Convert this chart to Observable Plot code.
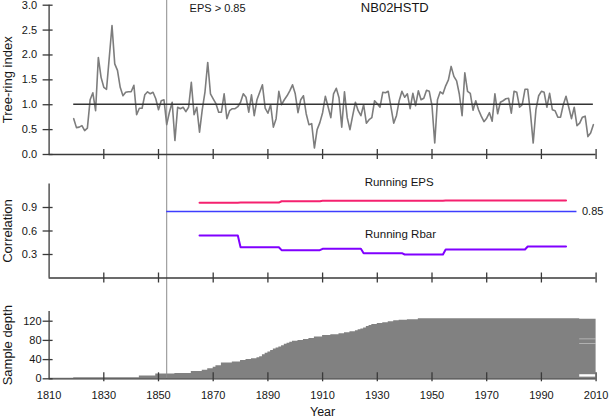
<!DOCTYPE html>
<html>
<head>
<meta charset="utf-8">
<script src="https://cdn.jsdelivr.net/npm/d3@7"></script>
<script src="https://cdn.jsdelivr.net/npm/@observablehq/plot@0.6"></script>
<style>
  html, body { margin: 0; padding: 0; background: #fff; }
  #chart { width: 609px; height: 419px; overflow: hidden; }
  #chart svg { display: block; }
</style>
</head>
<body>
<div id="chart"></div>
<script>
// ---------------- data ----------------
const chronologyName = "NB02HSTD";
const epsLabel = "EPS > 0.85";
const treeRingStart = 1819;
const treeRingIndex = [
  0.72, 0.54, 0.55, 0.58, 0.48, 0.53, 1.10, 1.24, 0.88, 1.95,
  1.55, 1.35, 1.31, 1.95, 2.59, 1.82, 1.69, 1.35, 1.18, 1.25,
  1.26, 1.26, 1.39, 0.80, 0.93, 0.93, 1.20, 1.26, 1.22, 1.25,
  1.12, 0.90, 1.08, 1.10, 0.60, 0.85, 1.05, 0.28, 0.95, 0.92,
  0.95, 0.86, 0.95, 1.45, 0.80, 0.95, 0.45, 0.90, 1.26, 1.85,
  1.22, 1.12, 1.02, 0.85, 0.85, 1.22, 0.72, 0.88, 0.92, 0.92,
  0.96, 1.05, 1.22, 1.15, 0.85, 1.20, 0.78, 1.10, 1.25, 1.40,
  0.93, 0.83, 1.00, 0.55, 0.72, 1.27, 1.00, 1.10, 1.18, 1.28,
  1.40, 1.22, 0.84, 1.10, 1.18, 0.82, 0.60, 0.62, 0.13, 0.50,
  0.64, 0.84, 1.17, 0.96, 0.74, 1.22, 1.33, 1.14, 0.55, 1.26,
  0.74, 0.50, 0.78, 1.05, 0.88, 0.78, 1.00, 0.63, 0.70, 0.74,
  1.08, 1.02, 0.95, 1.25, 1.24, 1.27, 0.95, 0.63, 0.78, 1.08,
  1.27, 1.15, 1.22, 0.92, 1.23, 0.98, 1.28, 1.10, 1.13, 1.29,
  1.27, 0.98, 0.23, 1.10, 1.26, 1.22, 1.38, 1.50, 1.77, 1.57,
  1.48, 1.21, 0.78, 1.64, 1.27, 1.23, 0.89, 1.08, 0.90, 0.77,
  0.66, 0.73, 0.84, 0.67, 1.22, 0.82, 1.05, 1.08, 1.12, 1.13,
  0.83, 1.27, 1.25, 0.95, 1.00, 1.31, 1.31, 0.83, 0.23, 0.90,
  1.18, 1.27, 1.25, 0.95, 1.23, 0.90, 0.88, 0.75, 0.75, 1.00,
  1.17, 0.95, 0.72, 0.95, 0.58, 0.63, 0.75, 0.77, 0.36, 0.43,
  0.60
];
const meanIndex = 1.01;

const epsCutYear = 1853;
const epsThreshold = 0.85;
const epsThresholdEnd = 2003;

const epsYears  = [1865, 1879, 1880, 1894, 1895, 1909, 1910, 1954, 1955, 1999];
const epsValues = [0.960, 0.960, 0.963, 0.963, 0.980, 0.980, 0.985, 0.985, 0.990, 0.990];

const rbarYears  = [1865, 1879, 1880, 1894, 1895, 1909, 1910, 1924, 1925, 1939, 1940, 1954, 1955, 1984, 1985, 1999];
const rbarValues = [0.543, 0.543, 0.393, 0.393, 0.355, 0.355, 0.373, 0.373, 0.317, 0.317, 0.300, 0.300, 0.364, 0.364, 0.402, 0.402];

const depthYears  = [1810, 1819, 1843, 1849, 1856, 1862, 1866, 1868, 1870, 1871, 1873, 1877, 1880, 1882, 1884, 1886, 1887, 1888, 1889, 1890,
                     1891, 1892, 1893, 1894, 1895, 1896, 1897, 1898, 1899, 1901, 1903, 1905, 1907, 1910, 1913, 1916, 1918, 1920, 1922, 1923,
                     1924, 1925, 1926, 1927, 1928, 1930, 1932, 1934, 1936, 1938, 1941, 1945, 2004];
const depthValues = [1, 2, 6, 10, 11, 15, 18, 21, 24, 27, 33, 35, 38, 40, 42, 44, 46, 50, 53, 56,
                     59, 62, 64, 66, 69, 72, 74, 76, 78, 80, 82, 84, 87, 90, 92, 94, 96, 98, 100, 102,
                     104, 106, 109, 111, 113, 115, 117, 119, 121, 122, 123, 125, 124];
const depthEndYear = 2010;

const gapStartYears = [2004, 2004, 2004];
const gapLow  = [3.5, 72.6, 81.6];
const gapHigh = [8.5, 73.4, 82.4];

const xTicks     = [1810, 1830, 1850, 1870, 1890, 1910, 1930, 1950, 1970, 1990, 2010];
const ringTicks  = [0, 0.5, 1.0, 1.5, 2.0, 2.5, 3.0];
const corrTicks  = [0.3, 0.6, 0.9];
const corrMax    = 1.2;
const depthTicks = [0, 40, 80, 120];
const depthMax   = 140;

const seriesLabels = ["Running EPS", "Running Rbar"];
const axisTitles = ["Tree-ring index", "Correlation", "Sample depth", "Year"];

// ---------------- tables built from the arrays ----------------
const treeRing = treeRingIndex.map((v, i) => ({year: treeRingStart + i, index: v}));
const lastYear = treeRingStart + treeRingIndex.length - 1;
const eps = epsYears.map((y, i) => ({year: y, value: epsValues[i]}));
const rbar = rbarYears.map((y, i) => ({year: y, value: rbarValues[i]}));
const depthSteps = depthYears.map((y, i) => ({year: y, depth: depthValues[i]}))
  .concat([{year: depthEndYear, depth: depthValues[depthValues.length - 1]}]);
const gaps = gapStartYears.map((y, i) => ({x1: y, x2: depthEndYear, y1: gapLow[i], y2: gapHigh[i]}));

// ---------------- shared styling ----------------
const xDomain = [xTicks[0], xTicks[xTicks.length - 1]];
const axisColor = "#3a3a3a";
const textColor = "#161616";
const axisW = 1.3;
const common = {
  width: 609,
  marginLeft: 48.6,
  marginRight: 13.4,
  style: {
    fontFamily: "'Liberation Sans', Arial, Helvetica, sans-serif",
    fontSize: "11px",
    color: textColor,
    background: "transparent",
    overflow: "visible"
  }
};

function frameMarks(yMax, yTicks, tickUp, tickDown) {
  return [
    Plot.ruleY([0], {x1: xDomain[0], x2: xDomain[1], stroke: axisColor, strokeWidth: axisW}),
    Plot.ruleX([xDomain[0]], {y1: 0, y2: yMax, stroke: axisColor, strokeWidth: axisW}),
    Plot.ruleX(xTicks.slice(1), {x: d => d, y1: 0, y2: 0, insetTop: -tickUp, insetBottom: -tickDown, stroke: axisColor, strokeWidth: axisW}),
    Plot.ruleY(yTicks, {y: d => d, x1: xDomain[0], x2: xDomain[0], insetLeft: -6, insetRight: -4, stroke: axisColor, strokeWidth: axisW})
  ];
}

function yTitle(label) {
  return Plot.text([label], {frameAnchor: "left", rotate: -90, dx: -46.3, lineAnchor: "top",
    textAnchor: "middle", text: d => d, fontSize: 13, fill: textColor});
}

// ---------------- top panel: chronology ----------------
const topM = {t: 4.7, b: 11};
const topPlot = Plot.plot({
  ...common,
  height: 165, marginTop: topM.t, marginBottom: topM.b,
  x: {domain: xDomain, axis: null},
  y: {domain: [0, ringTicks[ringTicks.length - 1]], ticks: ringTicks, tickSize: 0, tickPadding: 12, tickFormat: ".1f", label: null},
  marks: [
    Plot.ruleX([epsCutYear], {stroke: "#8c8c8c", strokeWidth: 1, insetTop: -topM.t, insetBottom: -topM.b}),
    ...frameMarks(ringTicks[ringTicks.length - 1], ringTicks, 5, 5),
    Plot.line(treeRing, {x: "year", y: "index", stroke: "#7d7d7d", strokeWidth: 1.6}),
    Plot.ruleY([meanIndex], {x1: treeRingStart, x2: lastYear, stroke: "#333", strokeWidth: 1.6}),
    Plot.text([chronologyName], {x: 1936.4, y: 2.94, text: d => d, fontSize: 13, lineAnchor: "middle", fill: textColor}),
    Plot.text([epsLabel], {x: 1871.6, y: 2.93, text: d => d, fontSize: 11, lineAnchor: "middle", fill: textColor}),
    yTitle(axisTitles[0])
  ]
});

// ---------------- middle panel: running statistics ----------------
const midM = {t: 18.5, b: 12.5};
const midPlot = Plot.plot({
  ...common,
  height: 125, marginTop: midM.t, marginBottom: midM.b,
  x: {domain: xDomain, axis: null},
  y: {domain: [0, corrMax], ticks: corrTicks, tickSize: 0, tickPadding: 12, tickFormat: ".1f", label: null},
  marks: [
    Plot.ruleX([epsCutYear], {stroke: "#8c8c8c", strokeWidth: 1, insetTop: -midM.t, insetBottom: -midM.b}),
    ...frameMarks(corrMax, corrTicks, 5, 5),
    Plot.ruleY([epsThreshold], {x1: epsCutYear, x2: epsThresholdEnd, stroke: "#3d3dff", strokeWidth: 1.5}),
    Plot.line(eps, {x: "year", y: "value", stroke: "#f5216f", strokeWidth: 2}),
    Plot.line(rbar, {x: "year", y: "value", stroke: "#8000ff", strokeWidth: 2}),
    Plot.text([epsThreshold], {x: epsThresholdEnd, y: d => d, text: d => String(d), dx: 5, textAnchor: "start",
      lineAnchor: "middle", fontSize: 11, fill: textColor}),
    Plot.text([seriesLabels[0]], {x: 1938, y: 1.218, text: d => d, fontSize: 11.5, lineAnchor: "middle", fill: textColor}),
    Plot.text([seriesLabels[1]], {x: 1938.5, y: 0.553, text: d => d, fontSize: 11.5, lineAnchor: "middle", fill: textColor}),
    yTitle(axisTitles[1])
  ]
});

// ---------------- bottom panel: sample depth ----------------
const botM = {t: 21.1, b: 40.7};
const botPlot = Plot.plot({
  ...common,
  height: 129, marginTop: botM.t, marginBottom: botM.b,
  x: {domain: xDomain, ticks: xTicks, tickSize: 0, tickPadding: 12.5, tickFormat: "d", label: null},
  y: {domain: [0, depthMax], ticks: depthTicks, tickSize: 0, tickPadding: 7.5, tickFormat: "d", label: null},
  marks: [
    Plot.areaY(depthSteps, {x: "year", y: "depth", curve: "step-after", fill: "#818181"}),
    Plot.rect(gaps, {x1: "x1", x2: "x2", y1: "y1", y2: "y2", fill: "white"}),
    Plot.ruleX([epsCutYear], {stroke: "#8c8c8c", strokeWidth: 1, insetTop: -botM.t}),
    ...frameMarks(depthMax, depthTicks, 6, 3),
    yTitle(axisTitles[2]),
    Plot.text([axisTitles[3]], {frameAnchor: "bottom", lineAnchor: "bottom", dy: 37.3, text: d => d,
      fontSize: 12.5, fill: textColor})
  ]
});

const chart = document.getElementById("chart");
chart.append(topPlot, midPlot, botPlot);
</script>
</body>
</html>
